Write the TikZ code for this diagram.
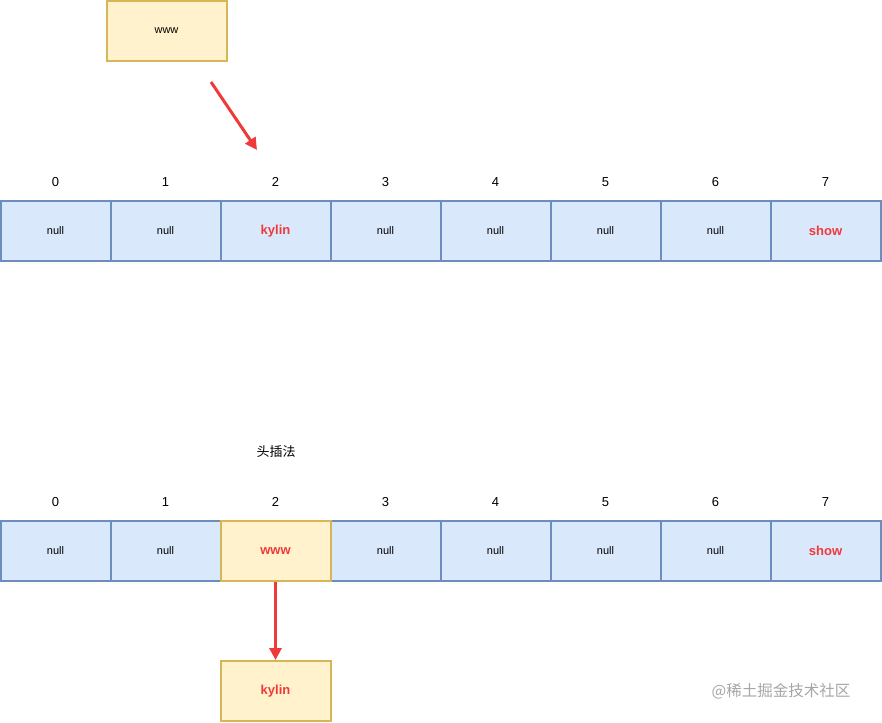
\documentclass[tikz,border=0pt]{standalone}
\usepackage{fontspec}
\setmainfont{Liberation Sans}
\newfontfamily\cjk{Noto Sans CJK SC}
\usetikzlibrary{arrows.meta}
\definecolor{bfill}{HTML}{DAE8FC}\definecolor{bline}{HTML}{6C8EBF}
\definecolor{yfill}{HTML}{FFF2CC}\definecolor{yline}{HTML}{D6B656}
\definecolor{redc}{HTML}{F03A3A}
\begin{document}
\begin{tikzpicture}[x=1pt,y=-1pt,
 cell/.style={draw=bline,fill=bfill,line width=2pt,minimum width=110pt,minimum height=60pt,inner sep=0pt,font=\fontsize{11}{12}\selectfont},
 ycell/.style={cell,draw=yline,fill=yfill},
 redt/.style={text=redc,font=\fontsize{13}{14}\selectfont\bfseries},
 idx/.style={font=\fontsize{13}{14}\selectfont},
 arr/.style={draw=redc,line width=3pt,-{Triangle[length=12pt,width=12pt]}}]
\useasboundingbox (0,0) rectangle (882,722);
\node[ycell,minimum width=120pt] (w) at (166.5,31) {www};
\coordinate (a1) at (211,82); \coordinate (a2) at (257,150);
\draw[arr] (a1) -- (a2);
\foreach \i in {0,...,7}{
  \pgfmathsetmacro{\cx}{55.5+110*\i}
  \node[idx] (ia\i) at (\cx,182) {\i};
  \node[idx] (ib\i) at (\cx,502) {\i};
}
\foreach \i/\t in {0/null,1/null,3/null,4/null,5/null,6/null}{
  \pgfmathsetmacro{\cx}{55.5+110*\i}
  \node[cell] (ra\i) at (\cx,231) {\t};
  \node[cell] (rb\i) at (\cx,551) {\t};
}
\node[cell,redt] (ra2) at (275.5,231) {kylin};
\node[cell,redt] (ra7) at (825.5,231) {show};
\node[ycell,redt] (rb2) at (275.5,551) {www};
\node[cell,redt] (rb7) at (825.5,551) {show};
\node[font=\cjk\fontsize{13}{14}\selectfont] (t) at (276,452) {头插法};
\node[ycell,redt] (k) at (275.5,691) {kylin};
\draw[arr] (rb2.south) -- (k.north);
\node[text=gray!70,font=\cjk\fontsize{15.5}{17}\selectfont] (wm) at (781,691) {@稀土掘金技术社区};
\end{tikzpicture}
\end{document}
